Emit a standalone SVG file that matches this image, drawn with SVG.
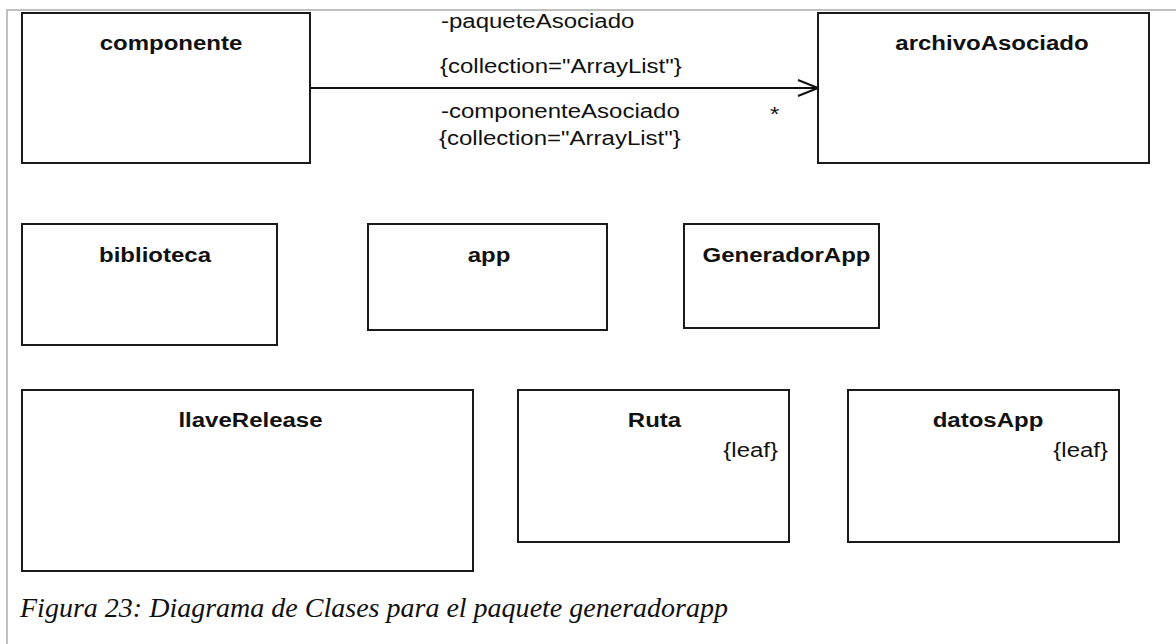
<svg xmlns="http://www.w3.org/2000/svg" width="1176" height="644" viewBox="0 0 1176 644">
  <style>
    .frame { fill: none; stroke: #c0c0c0; stroke-width: 2; }
    .cls { fill: #ffffff; stroke: #1a1a1a; stroke-width: 2; }
    .name { font-family: "Liberation Sans", Arial, sans-serif; font-weight: bold; font-size: 20px; fill: #111; text-anchor: middle; }
    .lbl { font-family: "Liberation Sans", Arial, sans-serif; font-size: 20px; fill: #111; }
    .tag { font-family: "Liberation Sans", Arial, sans-serif; font-size: 20px; fill: #111; text-anchor: end; }
    .cap { font-family: "Liberation Serif", "Times New Roman", serif; font-style: italic; font-size: 28px; fill: #111; }
    .assoc { fill: none; stroke: #111; stroke-width: 2; }
  </style>
  <defs>
    <marker id="open-arrow" viewBox="0 0 22 20" refX="21" refY="10" markerWidth="22" markerHeight="20" markerUnits="userSpaceOnUse" orient="auto">
      <path d="M1 2 L21 10 L1 18" fill="none" stroke="#111" stroke-width="2"/>
    </marker>
  </defs>

  <rect width="1176" height="644" fill="#ffffff"/>
  <!-- page frame -->
  <path class="frame" d="M1176 10 H7 V644"/>

  <g id="componente">
    <rect class="cls" x="22" y="13" width="288" height="150"/>
    <text class="name" x="171" y="50" textLength="142.7" lengthAdjust="spacingAndGlyphs">componente</text>
  </g>

  <g id="archivoAsociado">
    <rect class="cls" x="818" y="13" width="331" height="150"/>
    <text class="name" x="992" y="50" textLength="193.4" lengthAdjust="spacingAndGlyphs">archivoAsociado</text>
  </g>

  <g id="biblioteca">
    <rect class="cls" x="22" y="224" width="255" height="121"/>
    <text class="name" x="155" y="262" textLength="112" lengthAdjust="spacingAndGlyphs">biblioteca</text>
  </g>

  <g id="app">
    <rect class="cls" x="368" y="224" width="239" height="106"/>
    <text class="name" x="489" y="262" textLength="42.7" lengthAdjust="spacingAndGlyphs">app</text>
  </g>

  <g id="GeneradorApp">
    <rect class="cls" x="684" y="224" width="195" height="104"/>
    <text class="name" x="786.5" y="262" textLength="168" lengthAdjust="spacingAndGlyphs">GeneradorApp</text>
  </g>

  <g id="llaveRelease">
    <rect class="cls" x="22" y="390" width="451" height="181"/>
    <text class="name" x="250.5" y="427" textLength="144.1" lengthAdjust="spacingAndGlyphs">llaveRelease</text>
  </g>

  <g id="Ruta">
    <rect class="cls" x="518" y="390" width="271" height="152"/>
    <text class="name" x="654.5" y="427" textLength="53.3" lengthAdjust="spacingAndGlyphs">Ruta</text>
    <text class="tag" x="778" y="457" textLength="54.7" lengthAdjust="spacingAndGlyphs">{leaf}</text>
  </g>

  <g id="datosApp">
    <rect class="cls" x="848" y="390" width="271" height="152"/>
    <text class="name" x="988" y="427" textLength="110.7" lengthAdjust="spacingAndGlyphs">datosApp</text>
    <text class="tag" x="1108" y="457" textLength="54.7" lengthAdjust="spacingAndGlyphs">{leaf}</text>
  </g>

  <g id="connectors">
    <line class="assoc" x1="310" y1="88" x2="818" y2="88" marker-end="url(#open-arrow)"/>
    <text class="lbl" x="441" y="28" textLength="193.4" lengthAdjust="spacingAndGlyphs">-paqueteAsociado</text>
    <text class="lbl" x="440" y="73" textLength="241.8" lengthAdjust="spacingAndGlyphs">{collection="ArrayList"}</text>
    <text class="lbl" x="441" y="118" textLength="238.8" lengthAdjust="spacingAndGlyphs">-componenteAsociado</text>
    <text class="lbl" x="439" y="145" textLength="241.8" lengthAdjust="spacingAndGlyphs">{collection="ArrayList"}</text>
    <text class="lbl" x="770" y="121" textLength="9.3" lengthAdjust="spacingAndGlyphs">*</text>
  </g>

  <text class="cap" x="20" y="617" textLength="708" lengthAdjust="spacingAndGlyphs">Figura 23: Diagrama de Clases para el paquete generadorapp</text>
</svg>
